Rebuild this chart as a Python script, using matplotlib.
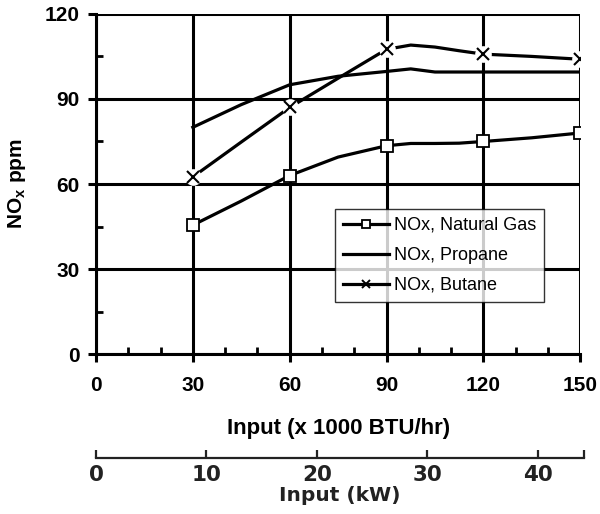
import matplotlib
matplotlib.use("Agg")
import matplotlib.pyplot as plt
from matplotlib.ticker import MultipleLocator

plt.rcParams['font.family'] = ['Liberation Sans', 'DejaVu Sans']
plt.rcParams['mathtext.fontset'] = 'custom'
plt.rcParams['mathtext.rm'] = 'Liberation Sans:bold'
plt.rcParams['mathtext.bf'] = 'Liberation Sans:bold'

# input in 1000 BTU/hr
inputs = [30, 45, 60, 75, 90, 97.5, 105, 112.5, 120, 135, 150]
marker_idx = [0, 2, 4, 8, 10]  # 30, 60, 90, 120, 150

nox_natural_gas = [45.5, 54, 63, 69.5, 73.5, 74.3, 74.3, 74.4, 75, 76.3, 78]
nox_propane = [80, 88, 95, 98, 99.7, 100.6, 99.5, 99.5, 99.5, 99.5, 99.5]
nox_butane = [62.5, 74.8, 87, 97.3, 107.5, 109, 108.3, 107, 105.8, 105, 104]

kw_ticks = [0, 10, 20, 30, 40]
kw_max = 44.2

fig = plt.figure(figsize=(6, 5.14), dpi=100)
ax = fig.add_axes([0.16, 0.311, 0.807, 0.662])

LW = 2.3
ax.plot(inputs, nox_natural_gas, color='black', lw=LW, marker='s', ms=8,
        mfc='white', mec='black', mew=1.3, markevery=marker_idx,
        label='NOx, Natural Gas', zorder=4)
ax.plot(inputs, nox_propane, color='black', lw=LW, label='NOx, Propane', zorder=4)
ax.plot(inputs, nox_butane, color='black', lw=LW, label='_nolegend_', zorder=4)
# white gap around the x markers
bx = [inputs[i] for i in marker_idx]
by = [nox_butane[i] for i in marker_idx]
ax.plot(bx, by, ls='none', marker='o', ms=12, mfc='white', mec='none', zorder=5)
ax.plot(bx, by, ls='none', marker='x', ms=9, mec='black', mew=1.5, zorder=6)
# proxy for legend
ax.plot([], [], color='black', lw=LW, marker='x', ms=8, mew=1.4, label='NOx, Butane')

ax.set_xlim(0, 150)
ax.set_ylim(0, 120)
ax.xaxis.set_major_locator(MultipleLocator(30))
ax.yaxis.set_major_locator(MultipleLocator(30))
ax.xaxis.set_minor_locator(MultipleLocator(10))
ax.yaxis.set_minor_locator(MultipleLocator(15))
ax.grid(True, which='major', color='black', lw=2.2)
ax.set_axisbelow(True)
for s in ax.spines.values():
    s.set_linewidth(2.2)
ax.spines['top'].set_visible(False)
ax.spines['right'].set_visible(False)

ax.tick_params(which='major', direction='out', length=6, width=2.2,
               labelsize=15)
ax.tick_params(axis='x', which='major', pad=10)
ax.tick_params(axis='y', which='major', pad=6)
ax.tick_params(which='minor', direction='in', length=5, width=2)
for lab in ax.get_xticklabels() + ax.get_yticklabels():
    lab.set_fontweight('bold')

ax.set_xlabel('Input (x 1000 BTU/hr)', fontsize=16, fontweight='bold', labelpad=16)
ax.set_ylabel(r'NO$_{\mathrm{x}}$ ppm', fontsize=15, fontweight='bold', labelpad=12)

leg = ax.legend(loc='upper left', bbox_to_anchor=(0.494, 0.427), fontsize=13,
                frameon=True, fancybox=False, edgecolor='black',
                handlelength=2.55, borderpad=0.45, labelspacing=0.72,
                handletextpad=0.25, borderaxespad=0, markerscale=0.8)
leg.get_frame().set_linewidth(1)
leg.set_zorder(10)

# second scale in kW, drawn as its own thin axes below the main one
kax = fig.add_axes([0.16, 1 - 458 / 514, (584 - 96) / 600, 0.001])
kax.set_xlim(0, kw_max)
kax.set_xticks(kw_ticks + [kw_max])
kax.set_xticklabels([str(t) for t in kw_ticks] + [''])
kax.set_yticks([])
for side in ['top', 'left', 'right']:
    kax.spines[side].set_visible(False)
kax.spines['bottom'].set_linewidth(1.6)
kax.spines['bottom'].set_color('#222222')
kax.patch.set_visible(False)
kax.tick_params(axis='x', direction='in', length=6, width=1.6, pad=5,
                labelsize=15.5, labelcolor='#222222', color='#222222')
for lab in kax.get_xticklabels():
    lab.set_fontweight('bold')
    lab.set_family('DejaVu Sans')
kax.set_xlabel('Input (kW)', fontsize=14.5, fontweight='bold', labelpad=1,
               color='#222222', family='DejaVu Sans')

fig.savefig('out.png', dpi=100)
